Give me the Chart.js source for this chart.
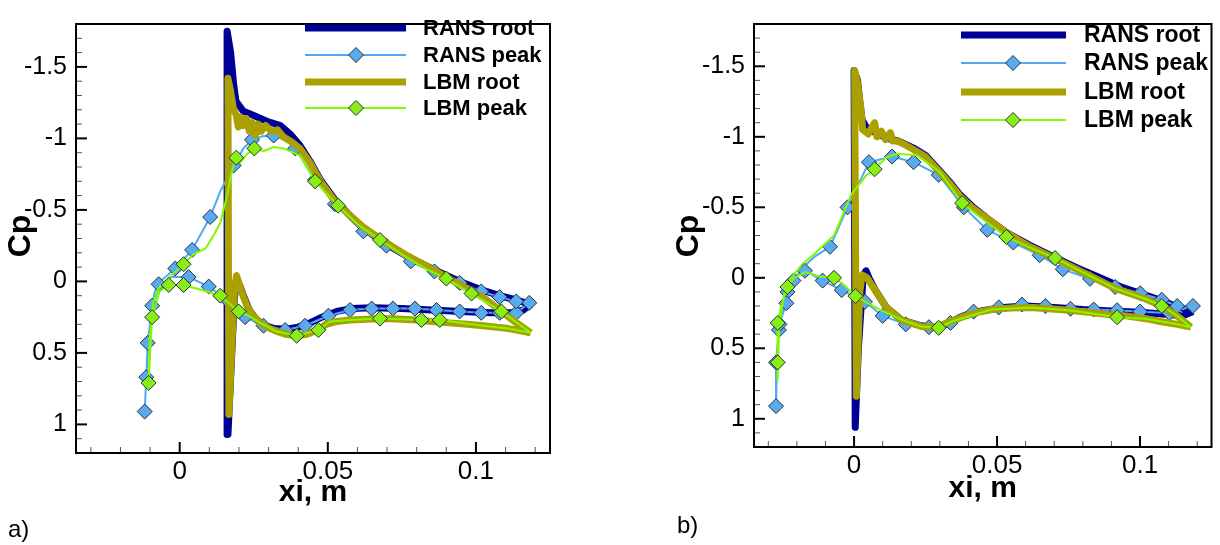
<!DOCTYPE html>
<html>
<head>
<meta charset="utf-8">
<script src="https://cdn.jsdelivr.net/npm/chart.js@4.4.1/dist/chart.umd.min.js"></script>
<style>
  body { margin: 0; background: #fff; }
  canvas { position: absolute; top: 0; }
</style>
</head>
<body>
<canvas id="chartA" width="610" height="545" style="left:0"></canvas>
<canvas id="chartB" width="610" height="545" style="left:610px"></canvas>
<script>
// ---- data: [xi (m), Cp] ----
const seriesNames = ["RANS root", "RANS peak", "LBM root", "LBM peak"];
const xTicks = [0, 0.05, 0.1];
const xTickLabels = ["0", "0.05", "0.1"];
const yTicks = [-1.5, -1, -0.5, 0, 0.5, 1];
const yTickLabels = ["-1.5", "-1", "-0.5", "0", "0.5", "1"];

// panel a)
const aRansRoot = [[0.1185,0.16],[0.116,0.2],[0.112,0.22],[0.105,0.22],[0.095,0.21],[0.085,0.2],[0.075,0.19],[0.065,0.185],[0.058,0.19],[0.053,0.21],[0.048,0.25],[0.044,0.29],[0.04,0.32],[0.036,0.335],[0.032,0.33],[0.029,0.31],[0.026,0.27],[0.0235,0.2],[0.0215,0.1],[0.0203,0.03],[0.0195,0.01],[0.0185,0.1],[0.0163,1.07],[0.016,-1.75],[0.0172,-1.6],[0.0182,-1.38],[0.019,-1.26],[0.0215,-1.19],[0.025,-1.16],[0.0294,-1.12],[0.034,-1.09],[0.0373,-1.03],[0.0406,-0.95],[0.044,-0.84],[0.0475,-0.71],[0.0524,-0.57],[0.057,-0.47],[0.062,-0.37],[0.0698,-0.26],[0.078,-0.16],[0.086,-0.08],[0.0945,0],[0.102,0.06],[0.108,0.1],[0.1136,0.13],[0.1185,0.16]];
const aLbmRoot = [[0.1185,0.36],[0.115,0.345],[0.111,0.33],[0.107,0.32],[0.1024,0.31],[0.097,0.3],[0.091,0.29],[0.085,0.28],[0.08,0.27],[0.075,0.265],[0.069,0.26],[0.063,0.265],[0.0575,0.27],[0.053,0.28],[0.0495,0.3],[0.0465,0.34],[0.043,0.37],[0.0395,0.38],[0.036,0.37],[0.0328,0.35],[0.0295,0.32],[0.0272,0.29],[0.0245,0.23],[0.0227,0.17],[0.021,0.08],[0.0198,0],[0.0192,-0.04],[0.0185,0.05],[0.0166,0.93],[0.0163,-1.42],[0.0172,-1.33],[0.0182,-1.2],[0.019,-1.17],[0.0198,-1.08],[0.0205,-1.15],[0.0215,-1.09],[0.0225,-1.14],[0.0235,-1.05],[0.0245,-1.11],[0.0255,-1.02],[0.0265,-1.1],[0.0275,-1.05],[0.029,-1.09],[0.031,-1.05],[0.033,-1.06],[0.035,-1.01],[0.0375,-0.98],[0.0406,-0.93],[0.044,-0.83],[0.0475,-0.7],[0.0524,-0.56],[0.057,-0.47],[0.062,-0.38],[0.069,-0.28],[0.076,-0.19],[0.083,-0.11],[0.09,-0.03],[0.097,0.05],[0.103,0.12],[0.108,0.2],[0.113,0.28],[0.1185,0.36]];
const aRansPeak = [[0.118,0.15],[0.1136,0.22],[0.108,0.22],[0.1018,0.22],[0.0945,0.21],[0.0867,0.2],[0.0794,0.19],[0.072,0.19],[0.0648,0.19],[0.0575,0.2],[0.0502,0.24],[0.0423,0.31],[0.0356,0.34],[0.0283,0.31],[0.0221,0.25],[0.0165,0.14],[0.0098,0.036],[0.003,-0.03],[-0.003,-0.03],[-0.0065,0.03],[-0.0093,0.17],[-0.0108,0.43],[-0.0118,0.91],[-0.0113,0.67],[-0.0099,0.25],[-0.0085,0.08],[-0.0071,0.01],[-0.0015,-0.09],[0.0042,-0.22],[0.0103,-0.45],[0.0137,-0.63],[0.0182,-0.81],[0.0215,-0.93],[0.0244,-0.99],[0.028,-1.015],[0.0317,-1.02],[0.0356,-0.99],[0.039,-0.93],[0.0457,-0.71],[0.0524,-0.54],[0.062,-0.35],[0.0698,-0.25],[0.078,-0.14],[0.086,-0.07],[0.0945,0.01],[0.1018,0.07],[0.108,0.11],[0.1136,0.14],[0.118,0.15]];
const aRansPeakMarks = [[0.118,0.15],[0.1136,0.22],[0.108,0.22],[0.1018,0.22],[0.0945,0.21],[0.0867,0.2],[0.0794,0.19],[0.072,0.19],[0.0648,0.19],[0.0575,0.2],[0.0502,0.24],[0.0423,0.31],[0.0356,0.34],[0.0283,0.31],[0.0221,0.25],[0.0165,0.14],[0.0098,0.036],[0.003,-0.03],[-0.0071,0.02],[-0.0093,0.17],[-0.0108,0.43],[-0.0113,0.67],[-0.0118,0.91],[-0.0015,-0.09],[0.0042,-0.22],[0.0103,-0.45],[0.0182,-0.81],[0.0244,-0.99],[0.0317,-1.02],[0.039,-0.93],[0.0457,-0.71],[0.0524,-0.54],[0.062,-0.35],[0.0698,-0.25],[0.078,-0.14],[0.086,-0.07],[0.0945,0.01],[0.1018,0.07],[0.108,0.11],[0.1136,0.14]];
const aLbmPeak = [[0.1185,0.36],[0.111,0.33],[0.1024,0.31],[0.0878,0.27],[0.0816,0.27],[0.075,0.265],[0.0676,0.26],[0.0575,0.27],[0.0507,0.28],[0.0468,0.34],[0.0395,0.38],[0.0328,0.35],[0.0272,0.29],[0.0232,0.24],[0.0199,0.21],[0.0137,0.1],[0.0075,0.06],[0.0013,0.025],[-0.0037,0.025],[-0.0068,0.07],[-0.0093,0.25],[-0.0105,0.71],[-0.0101,0.4],[-0.009,0.15],[-0.0072,0.05],[-0.0035,-0.03],[0.0013,-0.12],[0.0046,-0.19],[0.0087,-0.23],[0.0114,-0.32],[0.0137,-0.41],[0.016,-0.6],[0.0176,-0.77],[0.0191,-0.865],[0.0204,-0.83],[0.0227,-0.89],[0.0252,-0.93],[0.0283,-0.91],[0.0317,-0.94],[0.035,-0.93],[0.0406,-0.88],[0.0457,-0.7],[0.0535,-0.53],[0.06,-0.4],[0.0676,-0.29],[0.075,-0.19],[0.082,-0.1],[0.09,-0.02],[0.0985,0.085],[0.1086,0.21],[0.1185,0.36]];
const aLbmPeakMarks = [[0.0878,0.27],[0.0816,0.27],[0.0676,0.26],[0.0468,0.34],[0.0395,0.38],[0.0199,0.21],[0.0137,0.1],[0.0013,0.025],[-0.0037,0.025],[-0.0093,0.25],[-0.0105,0.71],[0.0013,-0.12],[0.0191,-0.865],[0.0252,-0.93],[0.0457,-0.7],[0.0535,-0.53],[0.0676,-0.29],[0.09,-0.02],[0.0985,0.085],[0.1086,0.21]];

// panel b)
const bRansRoot = [[0.1185,0.24],[0.115,0.27],[0.11,0.26],[0.1,0.245],[0.09,0.235],[0.08,0.225],[0.07,0.21],[0.06,0.2],[0.052,0.21],[0.046,0.23],[0.041,0.25],[0.037,0.28],[0.0342,0.31],[0.031,0.34],[0.027,0.35],[0.0235,0.34],[0.0167,0.3],[0.0113,0.21],[0.0075,0.09],[0.0052,0],[0.0042,-0.05],[0.0032,-0.02],[0.0015,0.5],[0.0004,1.06],[0,-1.47],[0.0012,-1.4],[0.002,-1.25],[0.0028,-1.12],[0.0045,-1.06],[0.0075,-1.03],[0.0105,-1],[0.0133,-0.98],[0.0154,-0.97],[0.0208,-0.92],[0.0249,-0.87],[0.029,-0.78],[0.033,-0.69],[0.037,-0.59],[0.0411,-0.51],[0.0466,-0.42],[0.0533,-0.32],[0.0615,-0.23],[0.0696,-0.15],[0.078,-0.07],[0.086,0],[0.094,0.07],[0.1,0.11],[0.106,0.15],[0.111,0.19],[0.1185,0.24]];
const bLbmRoot = [[0.1178,0.35],[0.113,0.33],[0.107,0.31],[0.102,0.29],[0.095,0.27],[0.0888,0.26],[0.082,0.245],[0.075,0.23],[0.068,0.22],[0.0616,0.21],[0.055,0.215],[0.048,0.225],[0.043,0.245],[0.039,0.27],[0.0342,0.305],[0.03,0.34],[0.0262,0.35],[0.0235,0.345],[0.0167,0.3],[0.0113,0.21],[0.007,0.076],[0.0045,0],[0.0028,-0.02],[0.002,0.1],[0.0008,0.84],[0.0002,-1.47],[0.0012,-1.38],[0.0025,-1.18],[0.003,-1.05],[0.005,-1.02],[0.006,-1.06],[0.0072,-1.1],[0.008,-1],[0.0095,-1.04],[0.011,-0.98],[0.0127,-1.03],[0.0135,-0.97],[0.0154,-0.97],[0.0208,-0.91],[0.0249,-0.86],[0.029,-0.77],[0.033,-0.68],[0.037,-0.58],[0.0411,-0.5],[0.0466,-0.42],[0.0533,-0.32],[0.0615,-0.22],[0.07,-0.14],[0.0818,-0.02],[0.0913,0.075],[0.102,0.15],[0.1076,0.2],[0.113,0.27],[0.1178,0.35]];
const bRansPeak = [[0.1185,0.2],[0.1103,0.25],[0.1,0.24],[0.092,0.23],[0.0838,0.225],[0.0757,0.22],[0.0669,0.2],[0.0587,0.19],[0.0506,0.21],[0.0418,0.24],[0.0337,0.32],[0.0262,0.35],[0.0181,0.33],[0.01,0.27],[0.0038,0.17],[-0.0043,0.087],[-0.011,0.02],[-0.0172,-0.05],[-0.0212,-0.01],[-0.0233,0.1],[-0.0255,0.25],[-0.0263,0.37],[-0.0273,0.6],[-0.0273,0.91],[-0.0268,0.5],[-0.0261,0.33],[-0.0237,0.18],[-0.0212,0.02],[-0.0175,-0.08],[-0.0138,-0.15],[-0.0084,-0.22],[-0.0023,-0.5],[0.0052,-0.82],[0.0133,-0.86],[0.0208,-0.82],[0.0296,-0.73],[0.0384,-0.5],[0.0466,-0.34],[0.0557,-0.25],[0.0649,-0.16],[0.073,-0.06],[0.0825,0.007],[0.0913,0.065],[0.1001,0.11],[0.1076,0.156],[0.113,0.2],[0.1185,0.2]];
const bRansPeakMarks = [[0.1185,0.2],[0.1103,0.25],[0.1,0.24],[0.092,0.23],[0.0838,0.225],[0.0757,0.22],[0.0669,0.2],[0.0587,0.19],[0.0506,0.21],[0.0418,0.24],[0.0337,0.32],[0.0262,0.35],[0.0181,0.33],[0.01,0.27],[0.0038,0.17],[-0.0043,0.087],[-0.011,0.02],[-0.0172,-0.05],[-0.0233,0.1],[-0.0263,0.37],[-0.0273,0.6],[-0.0273,0.91],[-0.0261,0.33],[-0.0237,0.18],[-0.0212,0.02],[-0.0084,-0.22],[-0.0023,-0.5],[0.0052,-0.82],[0.0133,-0.86],[0.0208,-0.82],[0.0296,-0.73],[0.0384,-0.5],[0.0466,-0.34],[0.0557,-0.25],[0.0649,-0.16],[0.073,-0.06],[0.0825,0.007],[0.0913,0.065],[0.1001,0.11],[0.1076,0.156],[0.113,0.2]];
const bLbmPeak = [[0.1178,0.35],[0.113,0.33],[0.102,0.29],[0.092,0.28],[0.082,0.25],[0.075,0.23],[0.0616,0.21],[0.048,0.225],[0.0342,0.31],[0.0296,0.355],[0.0235,0.345],[0.017,0.3],[0.0085,0.22],[0.0005,0.13],[-0.003,0.06],[-0.007,0],[-0.012,-0.01],[-0.017,-0.04],[-0.021,0],[-0.0233,0.065],[-0.0255,0.2],[-0.0267,0.32],[-0.0267,0.6],[-0.0268,0.73],[-0.0262,0.35],[-0.0245,0.12],[-0.022,0],[-0.018,-0.1],[-0.0138,-0.17],[-0.007,-0.3],[-0.001,-0.59],[0.004,-0.72],[0.0072,-0.77],[0.011,-0.85],[0.015,-0.88],[0.022,-0.87],[0.03,-0.75],[0.0378,-0.53],[0.0466,-0.39],[0.0533,-0.29],[0.062,-0.21],[0.0703,-0.14],[0.0818,-0.02],[0.0913,0.075],[0.102,0.15],[0.1076,0.2],[0.113,0.27],[0.1178,0.35]];
const bLbmPeakMarks = [[0.1076,0.2],[0.092,0.28],[0.0703,-0.14],[0.0533,-0.29],[0.0378,-0.53],[0.0296,0.355],[0.0072,-0.77],[0.0005,0.13],[-0.007,0],[-0.0233,0.065],[-0.0267,0.32],[-0.0267,0.6]];

// ---- styling ----
const NAVY = "#000096", GOLD = "#aaa100";
const BLUE_LINE = "#52a8f7", BLUE_FILL = "#5aaaf0";
const GREEN_LINE = "#80fa00", GREEN_FILL = "#88ee14";
const MARK_EDGE = "#24313f";

Chart.defaults.font.family = "'Liberation Sans', Arial, sans-serif";
Chart.defaults.color = "#000";

const pts = arr => arr.map(p => ({ x: p[0], y: p[1] }));

function lineSet(arr, color, width, order) {
    return { data: pts(arr), showLine: true, borderColor: color, borderWidth: width,
             borderJoinStyle: width > 3 ? "round" : "miter", pointRadius: 0, order };
}
function markSet(arr, fill, order) {
    return { data: pts(arr), showLine: false, pointStyle: "rectRot", pointRadius: 7.5,
             pointBackgroundColor: fill, pointBorderColor: MARK_EDGE, pointBorderWidth: 1, order };
}

function diamond(ctx, x, y, r, fill) {
    ctx.beginPath();
    ctx.moveTo(x - r, y); ctx.lineTo(x, y - r); ctx.lineTo(x + r, y); ctx.lineTo(x, y + r);
    ctx.closePath();
    ctx.fillStyle = fill; ctx.fill();
    ctx.lineWidth = 1; ctx.strokeStyle = MARK_EDGE; ctx.stroke();
}

// box, inward ticks, legend and titles
const decor = {
    id: "decor",
    beforeDatasetsDraw(chart, args, o) {
        const { ctx, chartArea: a, scales: { x, y } } = chart;
        ctx.save();
        for (let i = -17; i <= 11; i++) {
            const major = i % 5 === 0, py = y.getPixelForValue(i / 10);
            ctx.beginPath();
            ctx.lineWidth = major ? 2 : 1;
            ctx.strokeStyle = major ? "#000" : "#555";
            ctx.moveTo(a.left, py); ctx.lineTo(a.left + (major ? 11 : 6), py);
            ctx.stroke();
        }
        for (let i = -3; i <= 12; i++) {
            const major = i % 5 === 0, px = x.getPixelForValue(i / 100);
            ctx.beginPath();
            ctx.lineWidth = major ? 2 : 1;
            ctx.strokeStyle = major ? "#000" : "#555";
            ctx.moveTo(px, a.bottom); ctx.lineTo(px, a.bottom - (major ? 11 : 6));
            ctx.stroke();
        }
        ctx.restore();
    },
    afterDraw(chart, args, o) {
        const { ctx, chartArea: a } = chart;
        ctx.save();
        ctx.lineWidth = 2;
        ctx.strokeStyle = "#000";
        ctx.strokeRect(a.left, a.top, a.right - a.left, a.bottom - a.top);

        // legend
        const L = o.legend;
        const styles = [
            { color: NAVY, width: 7 },
            { color: BLUE_LINE, width: 2, mark: BLUE_FILL },
            { color: GOLD, width: 7 },
            { color: GREEN_LINE, width: 2, mark: GREEN_FILL }
        ];
        ctx.font = "bold " + L.size + "px 'Liberation Sans', Arial, sans-serif";
        ctx.textAlign = "left";
        ctx.textBaseline = "middle";
        seriesNames.forEach((name, i) => {
            const ry = L.rows[i], s = styles[i];
            ctx.beginPath();
            ctx.lineWidth = s.width; ctx.strokeStyle = s.color;
            ctx.moveTo(L.x0, ry); ctx.lineTo(L.x1, ry);
            ctx.stroke();
            if (s.mark) diamond(ctx, L.mx, ry, 7.5, s.mark);
            ctx.fillStyle = "#000";
            ctx.fillText(name, L.tx, ry + 1);
        });

        // axis titles
        ctx.fillStyle = "#000";
        ctx.font = "bold 30px 'Liberation Sans', Arial, sans-serif";
        ctx.textAlign = "center";
        ctx.textBaseline = "alphabetic";
        ctx.fillText("xi, m", (a.left + a.right) / 2, o.xiY);
        ctx.font = "bold 32px 'Liberation Sans', Arial, sans-serif";
        ctx.save();
        ctx.translate(o.cpX, o.cpY);
        ctx.rotate(-Math.PI / 2);
        ctx.fillText("Cp", 0, 0);
        ctx.restore();

        ctx.font = "24px 'Liberation Sans', Arial, sans-serif";
        ctx.textAlign = "left";
        ctx.fillText(o.letter, o.letterX, o.letterY);
        ctx.restore();
    }
};

function makePanel(canvasId, sets, P) {
    new Chart(document.getElementById(canvasId), {
        type: "scatter",
        data: {
            datasets: [
                lineSet(sets.ransRoot, NAVY, 7, 6),
                lineSet(sets.ransPeak, BLUE_LINE, 2, 5),
                markSet(sets.ransMarks, BLUE_FILL, 4),
                lineSet(sets.lbmRoot, GOLD, 7, 3),
                lineSet(sets.lbmPeak, GREEN_LINE, 2, 2),
                markSet(sets.lbmMarks, GREEN_FILL, 1)
            ]
        },
        options: {
            responsive: false,
            animation: false,
            devicePixelRatio: 1,
            events: [],
            layout: { padding: P.pad },
            plugins: {
                legend: { display: false },
                tooltip: { enabled: false },
                decor: P.decor
            },
            scales: {
                x: {
                    type: "linear", min: -0.035, max: 0.125,
                    grid: { display: false, drawTicks: false },
                    border: { display: false },
                    afterBuildTicks: s => { s.ticks = xTicks.map(v => ({ value: v })); },
                    afterFit: s => { s.height = P.xHeight; },
                    ticks: { callback: (v, i) => xTickLabels[i], font: { size: 26 }, color: "#000",
                             padding: P.xPad, maxRotation: 0, autoSkip: false }
                },
                y: {
                    type: "linear", min: -1.8, max: 1.2, reverse: true,
                    grid: { display: false, drawTicks: false },
                    border: { display: false },
                    afterBuildTicks: s => { s.ticks = yTicks.map(v => ({ value: v })); },
                    afterFit: s => { s.width = P.yWidth; },
                    ticks: { callback: (v, i) => yTickLabels[i], font: { size: 25 }, color: "#000",
                             padding: 9, autoSkip: false }
                }
            }
        },
        plugins: [decor]
    });
}

makePanel("chartA", {
    ransRoot: aRansRoot, ransPeak: aRansPeak, ransMarks: aRansPeakMarks,
    lbmRoot: aLbmRoot, lbmPeak: aLbmPeak, lbmMarks: aLbmPeakMarks
}, {
    pad: { left: 0, top: 8, right: 60, bottom: 0 },
    yWidth: 76, xHeight: 92, xPad: 3,
    decor: {
        letter: "a)", letterX: 8, letterY: 537,
        xiY: 501, cpX: 30, cpY: 236,
        legend: { x0: 305, x1: 406, mx: 356, tx: 423, size: 22, rows: [28, 55, 82, 108] }
    }
});

makePanel("chartB", {
    ransRoot: bRansRoot, ransPeak: bRansPeak, ransMarks: bRansPeakMarks,
    lbmRoot: bLbmRoot, lbmPeak: bLbmPeak, lbmMarks: bLbmPeakMarks
}, {
    pad: { left: 0, top: 12, right: 2, bottom: 0 },
    yWidth: 144, xHeight: 98, xPad: 3,
    decor: {
        letter: "b)", letterX: 67, letterY: 533,
        xiY: 497, cpX: 88, cpY: 236,
        legend: { x0: 351, x1: 456, mx: 403, tx: 474, size: 23, rows: [35, 63, 92, 120] }
    }
});
</script>
</body>
</html>
